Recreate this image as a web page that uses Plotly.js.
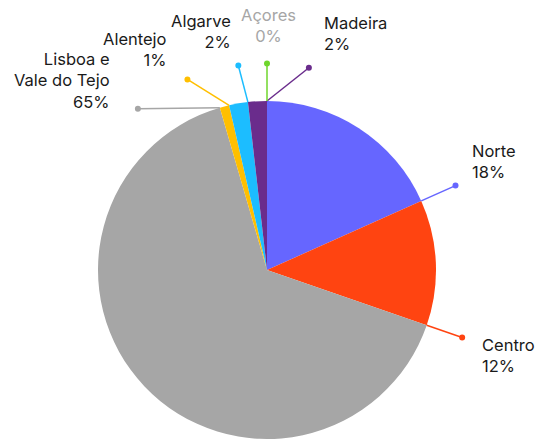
<!DOCTYPE html>
<html><head><meta charset="utf-8">
<script src="https://cdn.plot.ly/plotly-3.0.1.min.js"></script>
<style>html,body{margin:0;padding:0;background:#fff;overflow:hidden}</style>
</head><body><div id="chart" style="width:539px;height:439px"></div>
<script>
// ---- data ----
const regions = ["Norte", "Centro", "Lisboa e Vale do Tejo", "Alentejo", "Algarve", "Madeira", "Açores"];
const labelText = ["Norte", "Centro", "Lisboa e<br>Vale do Tejo", "Alentejo", "Algarve", "Madeira", "Açores"];
const shares = [18.3, 12.0, 65.2, 0.9, 1.8, 1.8, 0];
const colors = ["#6666FF", "#FF4411", "#A6A6A6", "#FFBF00", "#1CBDFF", "#6A2C8C", "#6FD62C"];

// ---- label layout (styling only) ----
const labelLayout = {
  "Norte":    {nudge: 0,     dx: 15,  dy: -2,  xa: "left",   ya: "bottom"},
  "Centro":   {nudge: 0,     dx: 18,  dy: -5,  xa: "left",   ya: "top"},
  "Lisboa e Vale do Tejo": {nudge: -22.5, dx: -26, dy: 5, xa: "right", ya: "bottom"},
  "Alentejo": {nudge: -9.7,  dx: -18, dy: -7,  xa: "right",  ya: "bottom"},
  "Algarve":  {nudge: -1.5,  dx: -5,  dy: -11, xa: "right",  ya: "bottom"},
  "Madeira":  {nudge: 11.7,  dx: 13,  dy: -12, xa: "left",   ya: "bottom"},
  "Açores":   {nudge: 0,     dx: 2,   dy: -15, xa: "center", ya: "bottom"}
};

const W = 539, H = 439;
const left = 98, right = 436, size = right - left;
const cx = (left + right) / 2, cy = H - size / 2, r = size / 2, rd = r * 1.222;
const px = x => x / W, py = y => 1 - y / H;

const total = shares.reduce((a, b) => a + b, 0);
let cum = 0;
const shapes = [], annotations = [];
regions.forEach((name, i) => {
  cum += shares[i];
  const end = cum / total * 360;
  const L = labelLayout[name];
  const a0 = end * Math.PI / 180, a1 = (end + L.nudge) * Math.PI / 180;
  const x0 = cx + r * Math.sin(a0), y0 = cy - r * Math.cos(a0);
  const x1 = cx + rd * Math.sin(a1), y1 = cy - rd * Math.cos(a1);
  shapes.push({type: "line", xref: "paper", yref: "paper", x0: px(x0), y0: py(y0), x1: px(x1), y1: py(y1),
    line: {color: colors[i], width: 1.5}, layer: "above"});
  const d = 3;
  shapes.push({type: "circle", xref: "paper", yref: "paper", x0: px(x1 - d), x1: px(x1 + d), y0: py(y1 + d), y1: py(y1 - d),
    fillcolor: colors[i], line: {width: 0}, layer: "above"});
  const pct = Math.round(shares[i] / total * 100);
  annotations.push({xref: "paper", yref: "paper", x: px(x1 + L.dx), y: py(y1 + L.dy),
    xanchor: L.xa, yanchor: L.ya, align: L.xa, showarrow: false,
    text: labelText[i] + "<br>" + pct + "%",
    font: {family: "Inter, 'Noto Sans', sans-serif", size: 16.5, color: pct === 0 ? "#A6A6A6" : "#1A1A1A"}});
});

const trace = {
  type: "pie", labels: regions, values: shares, sort: false, direction: "clockwise", rotation: 0,
  marker: {colors: colors, line: {width: 0}}, textinfo: "none", hoverinfo: "label+percent",
  domain: {x: [left / W, right / W], y: [0, size / H]}, showlegend: false
};

Plotly.newPlot("chart", [trace], {
  width: W, height: H, margin: {l: 0, r: 0, t: 0, b: 0},
  paper_bgcolor: "#fff", plot_bgcolor: "#fff", showlegend: false,
  shapes: shapes, annotations: annotations
}, {displayModeBar: false, staticPlot: true});
</script></body></html>
